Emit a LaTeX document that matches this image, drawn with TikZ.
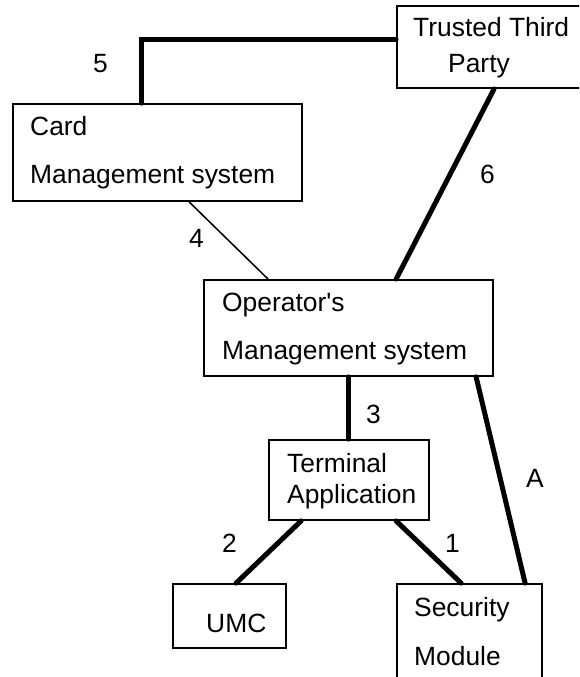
\documentclass[tikz,border=0pt]{standalone}
\usepackage{fontspec}
\setmainfont{Liberation Sans}
\usetikzlibrary{fit}
\begin{document}
\begin{tikzpicture}[x=1pt,y=-1pt,
  box/.style={draw, line width=1.8pt, inner sep=0pt, rectangle},
  lbl/.style={anchor=base west, inner sep=0pt, font=\fontsize{26.4}{30}\selectfont},
  heavy/.style={line width=5pt, line cap=round},
  light/.style={line width=1.5pt, line cap=round}]
\useasboundingbox (0,0) rectangle (579,677);
\fill[white] (0,0) rectangle (579,677);
\begin{scope}
\clip (0,0) rectangle (579,677);

% boxes
\coordinate (ttpA) at (397,6);     \coordinate (ttpB) at (590,88);
\coordinate (cardA) at (12.7,104); \coordinate (cardB) at (302,201);
\coordinate (omsA) at (204,280);   \coordinate (omsB) at (493,376);
\coordinate (taA) at (269,440);    \coordinate (taB) at (429,520);
\coordinate (umcA) at (173,584);   \coordinate (umcB) at (286,648);
\coordinate (smA) at (397,584);    \coordinate (smB) at (542,690);

\node[box, fit=(ttpA)(ttpB)] (ttp) {};
\node[box, fit=(cardA)(cardB)] (card) {};
\node[box, fit=(omsA)(omsB)] (oms) {};
\node[box, fit=(taA)(taB)] (ta) {};
\node[box, fit=(umcA)(umcB)] (umc) {};
\node[box, fit=(smA)(smB)] (sm) {};

% box texts
\node[lbl] (ttp1) at (413,37) {Trusted Third};
\node[lbl] (ttp2) at (448,73) {Party};
\node[lbl] (card1) at (30,135) {Card};
\node[lbl] (card2) at (30,183) {Management system};
\node[lbl] (oms1) at (222,311) {Operator\textquotesingle s};
\node[lbl] (oms2) at (222,359) {Management system};
\node[lbl] (ta1) at (287,472) {Terminal};
\node[lbl] (ta2) at (287,503) {Application};
\node[lbl] (umc1) at (206,632) {UMC};
\node[lbl] (sm1) at (414,616) {Security};
\node[lbl] (sm2) at (414,665) {Module};

% connectors
\draw[heavy] ([xshift=129.3pt]card.north west) |- ([yshift=-34pt]ttp.north west);
\draw[heavy] ([xshift=98pt]ttp.south west) -- ([xshift=193pt]oms.north west);
\draw[light] ([xshift=177.3pt]card.south west) -- ([xshift=65pt]oms.north west);
\draw[heavy] ([xshift=145pt]oms.south west) -- ([xshift=80pt]ta.north west);
\draw[heavy] ([xshift=273pt]oms.south west) -- ([xshift=129pt]sm.north west);
\draw[heavy] ([xshift=33pt]ta.south west) -- ([xshift=64pt]umc.north west);
\draw[heavy] ([xshift=128pt]ta.south west) -- ([xshift=65pt]sm.north west);

% connector labels
\node[lbl] (l5) at (93,72) {5};
\node[lbl] (l6) at (480,183) {6};
\node[lbl] (l4) at (189,247) {4};
\node[lbl] (l3) at (366,423) {3};
\node[lbl] (l2) at (222,552) {2};
\node[lbl] (l1) at (445,552) {1};
\node[lbl] (lA) at (526,487) {A};
\end{scope}
\end{tikzpicture}
\end{document}
